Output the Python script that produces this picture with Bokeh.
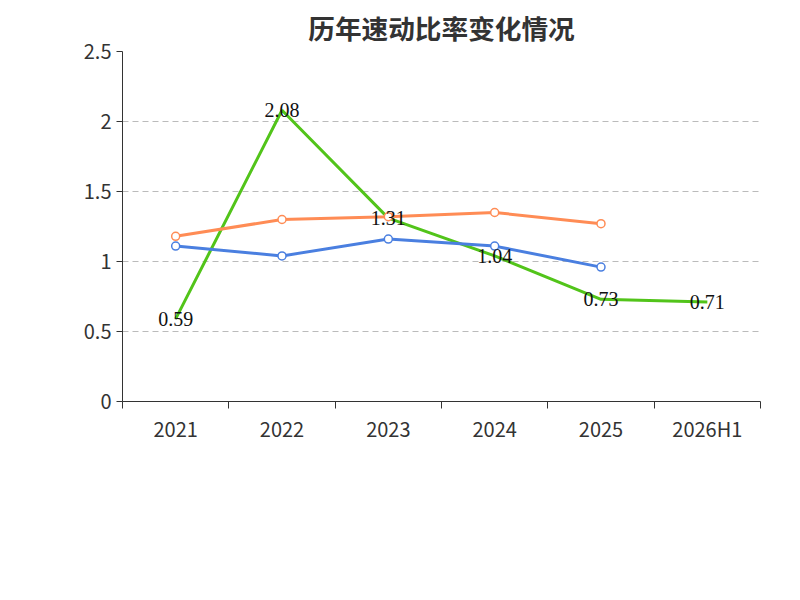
from bokeh.plotting import figure
from bokeh.models import FixedTicker, Legend, LegendItem, Title, ColumnDataSource, LabelSet
from bokeh.embed import file_html
from bokeh.resources import INLINE

categories = ["2021", "2022", "2023", "2024", "2025", "2026H1"]
quick_ratio = [0.59, 2.08, 1.31, 1.04, 0.73, 0.71]
ind_mean = [1.11, 1.04, 1.16, 1.11, 0.96]
ind_median = [1.18, 1.30, 1.32, 1.35, 1.27]

FONT = "Noto Sans CJK SC"
xs = [i + 0.5 for i in range(len(categories))]

p = figure(frame_width=638, frame_height=350, x_range=(0, 6), y_range=(0, 2.5),
           output_backend="svg", toolbar_location=None,
           min_border_left=122, min_border_right=24, min_border_top=30, min_border_bottom=0)
p.title.text = "历年速动比率变化情况"
p.title.align = "center"
p.title.text_font = FONT
p.title.text_font_size = "20pt"
p.title.text_color = "#333333"
p.outline_line_color = None

p.xaxis.ticker = FixedTicker(ticks=xs, minor_ticks=list(range(7)))
p.xaxis.major_label_overrides = {x: c for x, c in zip(xs, categories)}
p.xaxis.major_tick_out = 0
p.xaxis.major_tick_in = 0
p.xaxis.minor_tick_out = 7
p.xaxis.minor_tick_in = 0
p.xgrid.visible = False
p.yaxis.ticker = FixedTicker(ticks=[0, 0.5, 1, 1.5, 2, 2.5])
p.yaxis.major_label_overrides = {0: "0", 0.5: "0.5", 1: "1", 1.5: "1.5", 2: "2", 2.5: "2.5"}
p.yaxis.major_tick_out = 6
p.yaxis.major_tick_in = 0
for ax in (p.xaxis, p.yaxis):
    ax.axis_line_color = "#333333"
    ax.major_tick_line_color = "#333333"
    ax.minor_tick_line_color = "#333333"
    ax.major_label_text_font = FONT
    ax.major_label_text_font_size = "15pt"
    ax.major_label_text_color = "#333333"
p.yaxis.minor_tick_line_color = None
p.ygrid.grid_line_dash = "6 4"
p.ygrid.grid_line_color = "#bbbbbb"

g = "#52c41a"; b = "#4a7fe0"; o = "#ff8c55"
r1 = p.line(xs, quick_ratio, line_color=g, line_width=3)
r2 = p.line(xs[:5], ind_mean, line_color=b, line_width=3)
p.scatter(xs[:5], ind_mean, size=8, fill_color="white", line_color=b, line_width=1.5)
r3 = p.line(xs[:5], ind_median, line_color=o, line_width=3)
p.scatter(xs[:5], ind_median, size=8, fill_color="white", line_color=o, line_width=1.5)

src = ColumnDataSource(dict(x=xs, y=quick_ratio, t=[f"{v:.2f}" for v in quick_ratio]))
p.add_layout(LabelSet(x="x", y="y", text="t", source=src, text_align="center",
                      text_baseline="middle", text_font=FONT, text_font_size="15pt",
                      text_color="#111111"))

lg1 = p.scatter([xs[0]], [-5], size=14, fill_color="white", line_color=g, line_width=1.5)
lg2 = p.scatter([xs[0]], [-5], size=14, fill_color="white", line_color=b, line_width=1.5)
lg3 = p.scatter([xs[0]], [-5], size=14, fill_color="white", line_color=o, line_width=1.5)
legend = Legend(items=[LegendItem(label="速动比率", renderers=[r1, lg1]),
                       LegendItem(label="行业均值", renderers=[r2, lg2]),
                       LegendItem(label="行业中位数", renderers=[r3, lg3])],
                orientation="horizontal", location="top_center",
                label_text_font=FONT, label_text_font_size="15pt", label_text_color="#333333",
                glyph_width=50, spacing=20, border_line_color=None, margin=0,
                padding=30)
p.add_layout(legend, "below")
foot = Title(text="制图数据来自恒生聚源数据库", align="center", text_font=FONT,
             text_font_size="12pt", text_color="#c8961e", text_font_style="normal")
p.add_layout(foot, "below")

open("out.html", "w").write(file_html(p, INLINE))
